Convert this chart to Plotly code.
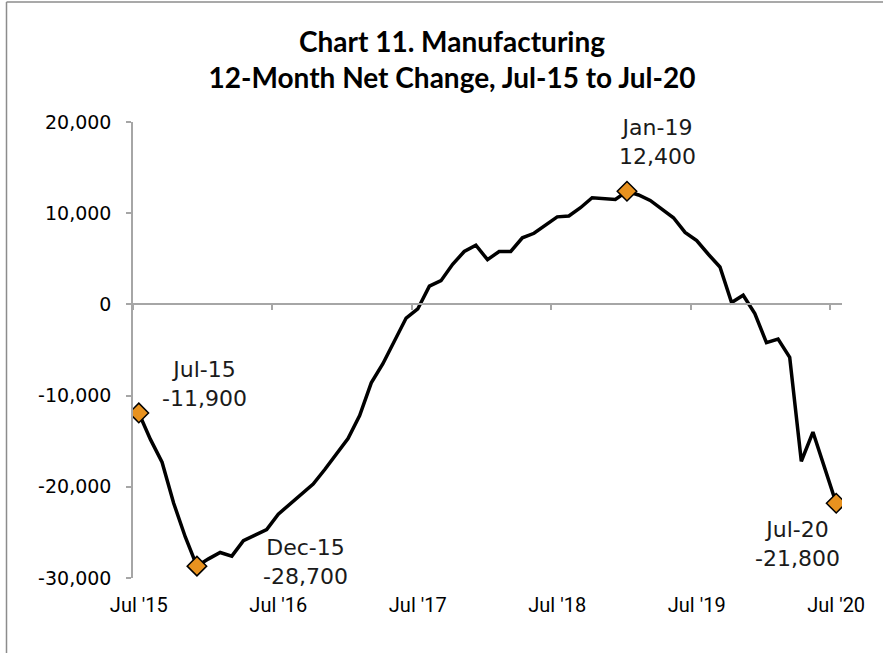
import plotly.graph_objects as go

months = ["Jul-15","Aug-15","Sep-15","Oct-15","Nov-15","Dec-15",
          "Jan-16","Feb-16","Mar-16","Apr-16","May-16","Jun-16",
          "Jul-16","Aug-16","Sep-16","Oct-16","Nov-16","Dec-16",
          "Jan-17","Feb-17","Mar-17","Apr-17","May-17","Jun-17",
          "Jul-17","Aug-17","Sep-17","Oct-17","Nov-17","Dec-17",
          "Jan-18","Feb-18","Mar-18","Apr-18","May-18","Jun-18",
          "Jul-18","Aug-18","Sep-18","Oct-18","Nov-18","Dec-18",
          "Jan-19","Feb-19","Mar-19","Apr-19","May-19","Jun-19",
          "Jul-19","Aug-19","Sep-19","Oct-19","Nov-19","Dec-19",
          "Jan-20","Feb-20","Mar-20","Apr-20","May-20","Jun-20",
          "Jul-20"]

net_change = [-11900, -14800, -17300, -21800, -25500, -28700,
              -27900, -27200, -27600, -25900, -25300, -24700,
              -23000, -21900, -20900, -19700, -18100, -16400,
              -14700, -12200, -8600, -6500, -4000, -1500,
              -500, 2000, 2600, 4400, 5800, 6500,
              4900, 5800, 5800, 7300, 7800, 8700,
              9600, 9700, 10600, 11700, 11600, 11500,
              12400, 12000, 11400, 10400, 9500, 7900,
              7000, 5500, 4100, 200, 1000, -1000,
              -4200, -3800, -5800, -17200, -14000, -17900,
              -21800]

x_tick_labels = ["Jul '15", "Jul '16", "Jul '17", "Jul '18", "Jul '19", "Jul '20"]
y_tick_values = [-30000, -20000, -10000, 0, 10000, 20000]
y_tick_labels = ["-30,000", "-20,000", "-10,000", "0", "10,000", "20,000"]
highlight_idx = [0, 5, 42, 60]
highlight_text = ["Jul-15<br>-11,900", "Dec-15<br>-28,700", "Jan-19<br>12,400", "Jul-20<br>-21,800"]
label_shift = [(66, 29), (109, 4), (31, 49), (-39, -41)]

x = list(range(len(months)))

fig = go.Figure()
fig.add_trace(go.Scatter(
    x=x, y=net_change, mode="lines",
    line=dict(color="black", width=3.5),
    hoverinfo="skip", showlegend=False))
fig.add_trace(go.Scatter(
    x=[x[i] for i in highlight_idx], y=[net_change[i] for i in highlight_idx],
    mode="markers",
    marker=dict(symbol="diamond", size=15, color="#E8921F",
                line=dict(color="black", width=1.5)),
    hoverinfo="skip", showlegend=False))
# invisible trace to carry the zero-crossing axis
fig.add_trace(go.Scatter(x=[0], y=[0], xaxis="x2", mode="none",
                         hoverinfo="skip", showlegend=False))

for i, t, (dx, dy) in zip(highlight_idx, highlight_text, label_shift):
    fig.add_annotation(x=x[i], y=net_change[i], text=t, showarrow=False,
                       xshift=dx, yshift=dy, align="center",
                       font=dict(family="DejaVu Sans", size=22, color="#1a1a1a"))

xr = [-0.5, len(months) - 0.5]
fig.update_layout(
    width=883, height=653,
    margin=dict(l=133, r=41, t=122, b=75),
    paper_bgcolor="white", plot_bgcolor="white",
    title=dict(text="<b>Chart 11. Manufacturing<br>12-Month Net Change, Jul-15 to Jul-20</b>",
               x=452/883, xref="container", xanchor="center",
               y=1 - 52/653, yref="container", yanchor="middle",
               font=dict(family="Lato, Roboto, sans-serif", size=28, color="black")),
    xaxis=dict(range=xr, tickmode="array", tickvals=[0, 12, 24, 36, 48, 60],
               ticktext=x_tick_labels, ticks="", showline=False, showgrid=False,
               zeroline=False, ticklabelstandoff=13,
               tickfont=dict(family="Roboto, sans-serif", size=20, color="black")),
    xaxis2=dict(range=xr, overlaying="x", anchor="free", position=0.6,
                showline=True, linecolor="#A6A6A6", linewidth=1.5,
                tickmode="array", tickvals=[-0.5, 11.5, 23.5, 35.5, 47.5, 59.5],
                ticks="outside", ticklen=5, tickcolor="#A6A6A6", tickwidth=1.5,
                showticklabels=False, showgrid=False, zeroline=False),
    yaxis=dict(range=[-30000, 20000], tickmode="array",
               tickvals=y_tick_values, ticktext=y_tick_labels,
               showgrid=False, zeroline=False,
               showline=True, linecolor="#A6A6A6", linewidth=1.5,
               ticks="outside", ticklen=5, tickcolor="#A6A6A6", tickwidth=1.5,
               ticklabelstandoff=11,
               tickfont=dict(family="DejaVu Sans", size=19, color="black")),
)

# chart-area frame (top and left edges)
fig.add_shape(type="line", xref="paper", yref="paper",
              x0=(6.5 - 133) / 709, x1=(890 - 133) / 709,
              y0=(578 - 2) / 456, y1=(578 - 2) / 456,
              line=dict(color="#8C8C8C", width=1.5))
fig.add_shape(type="line", xref="paper", yref="paper",
              x0=(6.5 - 133) / 709, x1=(6.5 - 133) / 709,
              y0=(578 - 2) / 456, y1=(578 - 660) / 456,
              line=dict(color="#8C8C8C", width=1.5))

fig.write_html("out.html", config={"displayModeBar": False},
               post_script="document.body.style.margin='0px';")
